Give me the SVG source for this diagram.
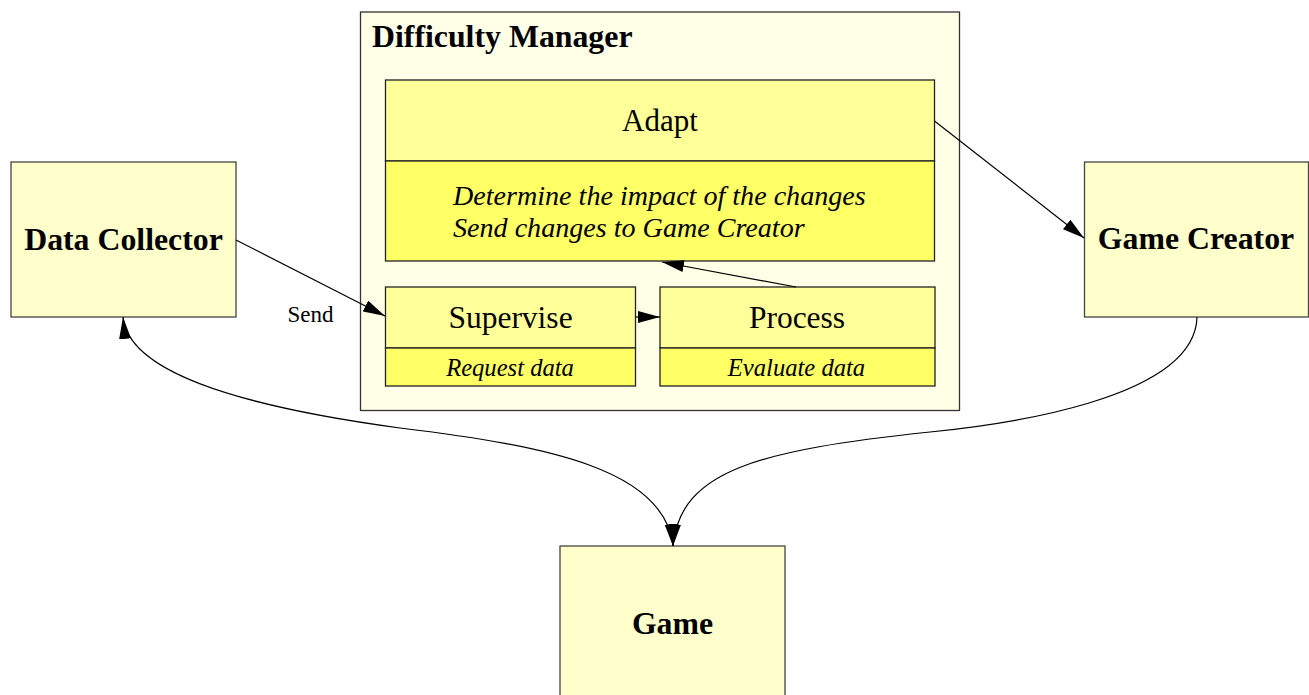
<svg xmlns="http://www.w3.org/2000/svg" width="1309" height="695" viewBox="0 0 1309 695">
<style>
.box{fill:#ffffcc;stroke:#444;stroke-width:1.3}
.cont{fill:#ffffe8;stroke:#333;stroke-width:1.3}
.head{fill:#ffff99;stroke:#222;stroke-width:1.3}
.body{fill:#ffff66;stroke:#222;stroke-width:1.3}
.b{font-family:"Liberation Serif",serif;font-weight:bold;fill:#000}
.r{font-family:"Liberation Serif",serif;fill:#000}
.i{font-family:"Liberation Serif",serif;font-style:italic;fill:#000}
.edge{fill:none;stroke:#000;stroke-width:1.2}
</style>
<defs>
<marker id="arr" viewBox="0 0 22 12" refX="22" refY="6" markerWidth="22" markerHeight="12" markerUnits="userSpaceOnUse" orient="auto-start-reverse">
<path d="M0,0 L22,6 L0,12 Z" fill="#000"/>
</marker>
</defs>
<rect width="1309" height="695" fill="#fff"/>
<g id="difficulty-manager">
<rect class="cont" x="360.5" y="12" width="599" height="398.5"/>
<text class="b" x="372" y="47" font-size="31.8">Difficulty Manager</text>
</g>
<g id="adapt">
<rect class="head" x="385.5" y="80" width="549" height="81"/>
<rect class="body" x="385.5" y="161" width="549" height="100"/>
<text class="r" x="660" y="131" font-size="31" text-anchor="middle">Adapt</text>
<text class="i" x="453" y="205" font-size="28.1">Determine the impact of the changes</text>
<text class="i" x="453" y="237" font-size="28.1">Send changes to Game Creator</text>
</g>
<g id="supervise">
<rect class="head" x="385.5" y="287" width="250" height="61"/>
<rect class="body" x="385.5" y="348" width="250" height="38"/>
<text class="r" x="510.5" y="328" font-size="31.5" text-anchor="middle">Supervise</text>
<text class="i" x="510" y="376" font-size="24.6" text-anchor="middle">Request data</text>
</g>
<g id="process">
<rect class="head" x="660" y="287" width="275" height="61"/>
<rect class="body" x="660" y="348" width="275" height="38"/>
<text class="r" x="797" y="328" font-size="31.5" text-anchor="middle">Process</text>
<text class="i" x="796.5" y="376" font-size="24.6" text-anchor="middle">Evaluate data</text>
</g>
<g id="data-collector">
<rect class="box" x="11" y="162" width="225" height="155"/>
<text class="b" x="123.5" y="250" font-size="31.8" text-anchor="middle">Data Collector</text>
</g>
<g id="game-creator">
<rect class="box" x="1084.5" y="162" width="224" height="155"/>
<text class="b" x="1196" y="249" font-size="31.8" text-anchor="middle">Game Creator</text>
</g>
<g id="game">
<rect class="box" x="560" y="546" width="225" height="160"/>
<text class="b" x="672.5" y="634" font-size="31.8" text-anchor="middle">Game</text>
</g>
<g id="connectors">
<path class="edge" d="M236,240 L385,316" marker-end="url(#arr)"/>
<text class="r" x="310.5" y="322" font-size="23" text-anchor="middle">Send</text>
<path class="edge" d="M635.5,317 L660,317" marker-end="url(#arr)"/>
<path class="edge" d="M796,287 L662,262" marker-end="url(#arr)"/>
<path class="edge" d="M934.5,121 L1084,238" marker-end="url(#arr)"/>
<path class="edge" d="M123,317 C128,370 230,405 400,428 C550,446 665,470 673,546" marker-start="url(#arr)" marker-end="url(#arr)"/>
<path class="edge" d="M1197,317 C1195,400 1000,425 930,432 C760,450 680,470 673,546" marker-end="url(#arr)"/>
</g>
</svg>
